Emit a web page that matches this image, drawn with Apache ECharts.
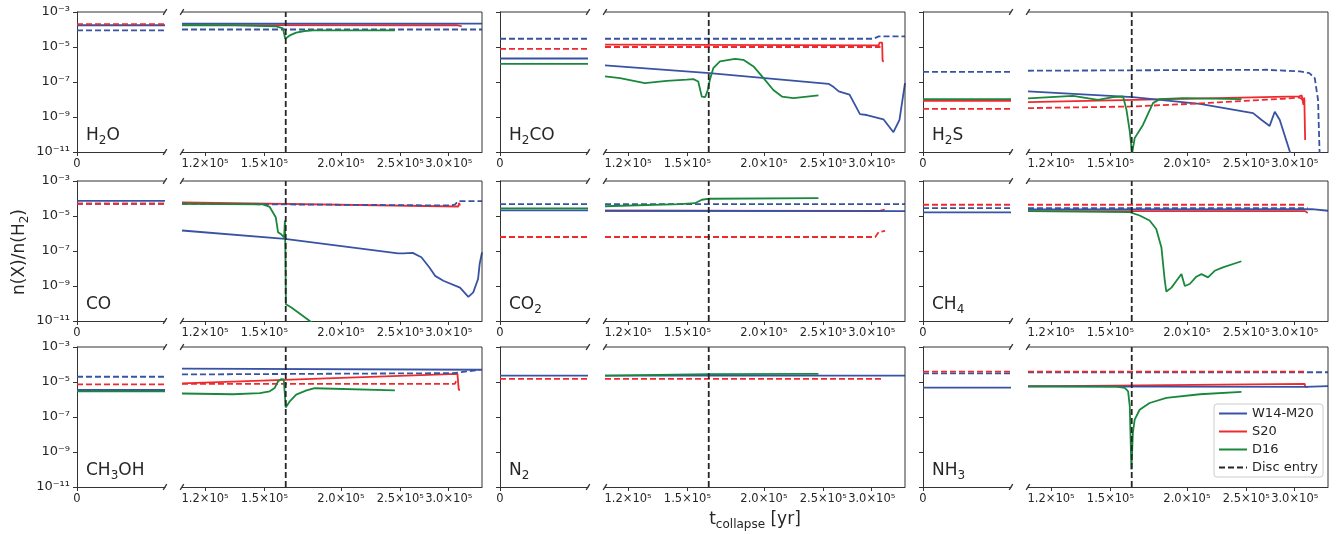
<!DOCTYPE html>
<html>
<head>
<meta charset="utf-8">
<title>Abundances during collapse</title>
<script src="https://cdn.jsdelivr.net/npm/echarts@6/dist/echarts.min.js"></script>
<style>
html,body{margin:0;padding:0;background:#fff;}
#main{width:1338px;height:534px;}
</style>
</head>
<body>
<div id="main"></div>
<script>
// species, row by row
var species = ['H2O', 'H2CO', 'H2S', 'CO', 'CO2', 'CH4', 'CH3OH', 'N2', 'NH3'];
var speciesText = ['{n|H}{s|2}{n|O}', '{n|H}{s|2}{n|CO}', '{n|H}{s|2}{n|S}', '{n|CO}', '{n|CO}{s|2}',
	'{n|CH}{s|4}', '{n|CH}{s|3}{n|OH}', '{n|N}{s|2}', '{n|NH}{s|3}'];

var xTicks = [1.2e5, 1.5e5, 2.0e5, 2.5e5, 3.0e5];
var xTickLabels = ['1.2×10⁵', '1.5×10⁵', '2.0×10⁵', '2.5×10⁵', '3.0×10⁵'];
var yTicks = [1e-11, 1e-9, 1e-7, 1e-5, 1e-3];
var yTickLabels = ['10⁻¹¹', '10⁻⁹', '10⁻⁷', '10⁻⁵', '10⁻³'];
var tDisc = 1.625e5;

// t = 0 panel, one value per species (null = not drawn)
var initW14Gas = [1.75e-4, 2.2e-6, 9.6e-9, 7.4e-5, 2.1e-5, 1.6e-5, 3.5e-6, 2.3e-5, 4.8e-6];
var initW14Ice = [8.9e-5, 2.97e-5, 3.8e-7, 5.0e-5, 4.8e-5, 2.8e-5, 2.0e-5, null, 3.1e-5];
var initS20Gas = [null, null, 8.3e-9, null, null, null, null, null, null];
var initS20Ice = [2.05e-4, 7.9e-6, 2.95e-9, 5.0e-5, 6.3e-7, 4.4e-5, 7.4e-6, 1.5e-5, 3.9e-5];
var initD16Gas = [null, 1.1e-6, 1.05e-8, null, 2.7e-5, null, 2.9e-6, null, null];

// collapse panel, [t (yr), n(X)/n(H2)]
var H2O_W14_gas = [[1.1e5, 2.15e-4], [3.4e5, 2.15e-4]];
var H2O_W14_ice = [[1.1e5, 1.0e-4], [3.4e5, 1.0e-4]];
var H2O_S20_gas = [[1.1e5, 1.8e-4], [3.1e5, 1.75e-4], [3.12e5, 1.5e-4], [3.15e5, 1.5e-4]];
var H2O_S20_ice = null;
var H2O_D16_gas = [[1.1e5, 1.75e-4], [1.35e5, 1.7e-4], [1.568e5, 1.5e-4], [1.608e5, 1.16e-4], [1.622e5, 2.97e-5],
	[1.65e5, 4.6e-5], [1.69e5, 6.6e-5], [1.745e5, 8.2e-5], [1.8e5, 8.9e-5], [2.45e5, 8.9e-5]];

var H2CO_W14_gas = [[1.1e5, 8.9e-7], [1.63e5, 3.2e-7], [2.55e5, 7.9e-8], [2.6e5, 5.1e-8], [2.65e5, 2.9e-8],
	[2.76e5, 1.9e-8], [2.87e5, 1.45e-9], [2.945e5, 1.3e-9], [3.135e5, 7.4e-10], [3.255e5, 1.35e-10],
	[3.33e5, 6.9e-10], [3.4e5, 8.7e-8]];
var H2CO_W14_ice = [[1.1e5, 2.97e-5], [3.02e5, 2.97e-5], [3.08e5, 4.05e-5], [3.4e5, 4.05e-5]];
var H2CO_S20_gas = [[1.1e5, 1.35e-5], [3.08e5, 1.23e-5], [3.09e5, 1.8e-5], [3.12e5, 1.8e-5], [3.125e5, 1.6e-6], [3.14e5, 1.5e-6]];
var H2CO_S20_ice = [[1.1e5, 1.0e-5], [3.1e5, 1.0e-5]];
var H2CO_D16_gas = [[1.1e5, 2.1e-7], [1.164e5, 1.66e-7], [1.278e5, 8.7e-8], [1.387e5, 1.17e-7], [1.496e5, 1.35e-7],
	[1.534e5, 1.45e-7], [1.562e5, 1.07e-7], [1.583e5, 1.48e-8], [1.603e5, 1.35e-8], [1.619e5, 3.5e-8],
	[1.632e5, 1.35e-7], [1.653e5, 6.2e-7], [1.695e5, 1.5e-6], [1.794e5, 2.1e-6], [1.851e5, 1.86e-6],
	[1.923e5, 7.8e-7], [1.997e5, 1.66e-7], [2.072e5, 3.5e-8], [2.14e5, 1.48e-8], [2.234e5, 1.2e-8], [2.455e5, 1.7e-8]];

var H2S_W14_gas = [[1.1e5, 2.9e-8], [1.632e5, 1.35e-8], [2.1e5, 5.6e-9], [2.565e5, 1.66e-9], [2.646e5, 6.9e-10],
	[2.73e5, 3.1e-10], [2.783e5, 2.0e-9], [2.835e5, 6.9e-10], [2.963e5, 5.5e-12]];
var H2S_W14_ice = [[1.1e5, 4.4e-7], [2.7e5, 5.0e-7], [3.06e5, 4.0e-7], [3.17e5, 3.2e-7], [3.235e5, 1.66e-7],
	[3.275e5, 9.6e-9], [3.3e5, 1e-12]];
var H2S_S20_gas = [[1.1e5, 7.1e-9], [3.05e5, 1.5e-8], [3.08e5, 1.7e-8], [3.1e5, 5e-9], [3.11e5, 1.3e-8], [3.12e5, 4.9e-11]];
var H2S_S20_ice = [[1.1e5, 3.2e-9], [1.63e5, 4.0e-9], [2.1e5, 6.0e-9], [2.87e5, 1.1e-8], [3.05e5, 1.3e-8], [3.13e5, 8.0e-9]];
var H2S_D16_gas = [[1.1e5, 1.15e-8], [1.303e5, 1.62e-8], [1.431e5, 9.6e-9], [1.515e5, 1.35e-8], [1.573e5, 1.48e-8],
	[1.593e5, 2.6e-9], [1.613e5, 1.5e-10], [1.627e5, 8e-12], [1.643e5, 6.2e-11], [1.695e5, 3.5e-10],
	[1.76e5, 6.2e-9], [1.805e5, 1.05e-8], [1.971e5, 1.2e-8], [2.455e5, 1.05e-8]];

var CO_W14_gas = [[1.1e5, 1.48e-6], [1.62e5, 4.9e-7], [2.48e5, 7.4e-8], [2.527e5, 7.4e-8], [2.62e5, 7.8e-8],
	[2.707e5, 4.4e-8], [2.79e5, 1.15e-8], [2.85e5, 3.8e-9], [2.94e5, 2.0e-9], [3.13e5, 8.1e-10],
	[3.23e5, 2.4e-10], [3.245e5, 2.0e-10], [3.29e5, 4.3e-10], [3.35e5, 2.5e-9], [3.37e5, 1.8e-8], [3.4e5, 8.3e-8]];
var CO_W14_ice = [[1.1e5, 5.0e-5], [3.01e5, 4.0e-5], [3.07e5, 4.5e-5], [3.11e5, 7.1e-5], [3.4e5, 7.1e-5]];
var CO_S20_gas = [[1.1e5, 6.0e-5], [3.11e5, 3.5e-5], [3.12e5, 5.5e-5], [3.13e5, 4.0e-5]];
var CO_S20_ice = null;
var CO_D16_gas = [[1.1e5, 5.0e-5], [1.492e5, 4.6e-5], [1.53e5, 3.3e-5], [1.565e5, 8.5e-6], [1.579e5, 1.17e-6],
	[1.599e5, 8.7e-7], [1.615e5, 6.0e-7], [1.62e5, 5.5e-6], [1.623e5, 6.8e-8], [1.626e5, 9.1e-11],
	[1.66e5, 5.9e-11], [1.779e5, 1e-11], [1.812e5, 6e-12]];

var CO2_W14_gas = [[1.1e5, 2.0e-5], [3.4e5, 1.9e-5]];
var CO2_W14_ice = [[1.1e5, 4.8e-5], [3.4e5, 4.8e-5]];
var CO2_S20_gas = [[1.1e5, 2.0e-5], [3.09e5, 1.95e-5], [3.1e5, 2.3e-5], [3.15e5, 2.3e-5]];
var CO2_S20_ice = [[1.1e5, 6.3e-7], [3.04e5, 6.3e-7], [3.08e5, 1.2e-6], [3.095e5, 1.4e-6], [3.155e5, 1.4e-6]];
var CO2_D16_gas = [[1.1e5, 3.6e-5], [1.458e5, 4.8e-5], [1.543e5, 5.4e-5], [1.583e5, 8.5e-5], [1.632e5, 9.7e-5], [2.455e5, 1.05e-4]];

var CH4_W14_gas = [[1.1e5, 2.4e-5], [3.2e5, 2.5e-5], [3.4e5, 2.0e-5]];
var CH4_W14_ice = [[1.1e5, 2.8e-5], [3.15e5, 2.8e-5]];
var CH4_S20_gas = [[1.1e5, 1.9e-5], [3.12e5, 1.9e-5], [3.13e5, 1.5e-5], [3.15e5, 1.5e-5]];
var CH4_S20_ice = [[1.1e5, 4.4e-5], [3.12e5, 4.4e-5]];
var CH4_D16_gas = [[1.1e5, 1.9e-5], [1.613e5, 1.66e-5], [1.674e5, 1.07e-5], [1.738e5, 5.5e-6], [1.782e5, 1.8e-6],
	[1.817e5, 1.6e-7], [1.84e5, 2.0e-9], [1.851e5, 4.8e-10], [1.887e5, 8.1e-10], [1.923e5, 2.0e-9],
	[1.959e5, 4.8e-9], [1.984e5, 1.0e-9], [2.021e5, 1.3e-9], [2.072e5, 3.4e-9], [2.112e5, 4.8e-9],
	[2.165e5, 3.1e-9], [2.22e5, 7.4e-9], [2.29e5, 1.15e-8], [2.455e5, 2.6e-8]];

var CH3OH_W14_gas = [[1.1e5, 5.8e-5], [3.4e5, 5.0e-5]];
var CH3OH_W14_ice = [[1.1e5, 2.7e-5], [3.05e5, 3.2e-5], [3.37e5, 5.0e-5]];
var CH3OH_S20_gas = [[1.1e5, 8.3e-6], [3.1e5, 2.9e-5], [3.11e5, 2.9e-5], [3.115e5, 3.6e-6], [3.13e5, 3.6e-6]];
var CH3OH_S20_ice = [[1.1e5, 7.8e-6], [3.07e5, 7.8e-6], [3.09e5, 1.3e-5], [3.11e5, 1.3e-5]];
var CH3OH_D16_gas = [[1.1e5, 2.2e-6], [1.333e5, 2.0e-6], [1.474e5, 2.3e-6], [1.53e5, 2.95e-6], [1.559e5, 4.6e-6],
	[1.579e5, 1.1e-5], [1.599e5, 1.48e-5], [1.613e5, 1.4e-5], [1.619e5, 2.4e-6], [1.625e5, 3.5e-7],
	[1.65e5, 7.9e-7], [1.69e5, 1.9e-6], [1.757e5, 3.3e-6], [1.812e5, 4.4e-6], [2.45e5, 3.3e-6]];

var N2_W14_gas = [[1.1e5, 2.3e-5], [3.4e5, 2.3e-5]];
var N2_W14_ice = null;
var N2_S20_gas = null;
var N2_S20_ice = [[1.1e5, 1.5e-5], [3.13e5, 1.5e-5]];
var N2_D16_gas = [[1.1e5, 2.3e-5], [1.632e5, 2.8e-5], [2.455e5, 2.9e-5]];

var NH3_W14_gas = [[1.1e5, 5.6e-6], [3.115e5, 5.3e-6], [3.4e5, 5.8e-6]];
var NH3_W14_ice = [[1.1e5, 3.6e-5], [3.4e5, 3.6e-5]];
var NH3_S20_gas = [[1.1e5, 5.6e-6], [3.115e5, 7.8e-6], [3.12e5, 5.2e-6], [3.155e5, 5.2e-6]];
var NH3_S20_ice = [[1.1e5, 3.9e-5], [3.13e5, 3.9e-5]];
var NH3_D16_gas = [[1.1e5, 5.6e-6], [1.534e5, 5.4e-6], [1.583e5, 4.6e-6], [1.603e5, 2.95e-6], [1.613e5, 4.1e-7],
	[1.623e5, 1.0e-10], [1.627e5, 1.2e-10], [1.632e5, 1.23e-8], [1.643e5, 7.1e-8], [1.674e5, 2.6e-7],
	[1.738e5, 6.3e-7], [1.851e5, 1.23e-6], [2.1e5, 2.0e-6], [2.455e5, 2.7e-6]];

var wideW14Gas = [H2O_W14_gas, H2CO_W14_gas, H2S_W14_gas, CO_W14_gas, CO2_W14_gas, CH4_W14_gas, CH3OH_W14_gas, N2_W14_gas, NH3_W14_gas];
var wideW14Ice = [H2O_W14_ice, H2CO_W14_ice, H2S_W14_ice, CO_W14_ice, CO2_W14_ice, CH4_W14_ice, CH3OH_W14_ice, N2_W14_ice, NH3_W14_ice];
var wideS20Gas = [H2O_S20_gas, H2CO_S20_gas, H2S_S20_gas, CO_S20_gas, CO2_S20_gas, CH4_S20_gas, CH3OH_S20_gas, N2_S20_gas, NH3_S20_gas];
var wideS20Ice = [H2O_S20_ice, H2CO_S20_ice, H2S_S20_ice, CO_S20_ice, CO2_S20_ice, CH4_S20_ice, CH3OH_S20_ice, N2_S20_ice, NH3_S20_ice];
var wideD16Gas = [H2O_D16_gas, H2CO_D16_gas, H2S_D16_gas, CO_D16_gas, CO2_D16_gas, CH4_D16_gas, CH3OH_D16_gas, N2_D16_gas, NH3_D16_gas];

// layout
var narrowLeft = [77, 500, 923], wideLeft = [182, 605, 1028];
var narrowW = 88, wideW = 300;
var rowTop = [12, 181, 347], rowH = 140;
var blue = '#3853a4', red = '#ee2a2f', green = '#19883c', black = '#262626';
var spine = '#333', font = 'DejaVu Sans', txt = '#262626';

var chart = echarts.init(document.getElementById('main'));

function nearestLabel(v, ticks, labels) {
	var best = 0;
	for (var i = 1; i < ticks.length; i++) {
		if (Math.abs(Math.log(v / ticks[i])) < Math.abs(Math.log(v / ticks[best]))) best = i;
	}
	return labels[best];
}

function lineSeries(name, idx, data, color, dashed) {
	return {
		type: 'line', name: name, xAxisIndex: idx, yAxisIndex: idx, data: data,
		symbol: 'none', showSymbol: false, silent: true, animation: false,
		lineStyle: {color: color, width: 1.8, type: dashed ? [6, 3] : 'solid'},
		itemStyle: {color: color}
	};
}

var grids = [], xAxes = [], yAxes = [], series = [], graphics = [];

function seg(x1, y1, x2, y2, w) {
	graphics.push({type: 'line', silent: true, z: 50, shape: {x1: x1, y1: y1, x2: x2, y2: y2},
		style: {stroke: spine, lineWidth: w || 1}});
}

var subRich = {
	n: {fontSize: 17, fontFamily: font, fill: txt, lineHeight: 20, padding: [0, 0, 2, 0]},
	s: {fontSize: 12, fontFamily: font, fill: txt, lineHeight: 12, verticalAlign: 'bottom'}
};

for (var s = 0; s < species.length; s++) {
	var row = Math.floor(s / 3), col = s % 3;
	var pTop = rowTop[row], pBottom = rowTop[row] + rowH;
	var nl = narrowLeft[col], wl = wideLeft[col];
	var ni = 2 * s, wi = 2 * s + 1;

	grids.push({left: nl, top: pTop, width: narrowW, height: rowH});
	grids.push({left: wl, top: pTop, width: wideW, height: rowH});

	xAxes.push({
		gridIndex: ni, type: 'value', min: 0, max: 1,
		axisLine: {show: true, lineStyle: {color: spine, width: 1}},
		axisTick: {show: true, length: 4, customValues: [0], lineStyle: {color: spine}},
		axisLabel: {show: true, customValues: [0], margin: 6, fontSize: 11.5, fontFamily: font, color: txt,
			formatter: function () { return '0'; }},
		splitLine: {show: false}
	});
	xAxes.push({
		gridIndex: wi, type: 'log', logBase: 10, min: 1.1e5, max: 3.4e5,
		axisLine: {show: true, lineStyle: {color: spine, width: 1}},
		axisTick: {show: true, length: 4, customValues: xTicks, lineStyle: {color: spine}},
		axisLabel: {show: true, customValues: xTicks, margin: 6, fontSize: 11.5, fontFamily: font, color: txt,
			hideOverlap: false,
			formatter: function (v) { return nearestLabel(v, xTicks, xTickLabels); }},
		splitLine: {show: false}, minorTick: {show: false}
	});
	yAxes.push({
		gridIndex: ni, type: 'log', logBase: 10, min: 1e-11, max: 1e-3,
		axisLine: {show: true, lineStyle: {color: spine, width: 1}},
		axisTick: {show: true, length: 4, customValues: yTicks, lineStyle: {color: spine}},
		axisLabel: {show: col === 0, customValues: yTicks, margin: 7, fontSize: 13, fontFamily: font, color: txt,
			formatter: function (v) { return nearestLabel(v, yTicks, yTickLabels); }},
		splitLine: {show: false}
	});
	yAxes.push({
		gridIndex: wi, type: 'log', logBase: 10, min: 1e-11, max: 1e-3, show: false,
		splitLine: {show: false}
	});

	// t = 0 panel
	if (initW14Gas[s] !== null) series.push(lineSeries('W14-M20', ni, [[0, initW14Gas[s]], [1, initW14Gas[s]]], blue, false));
	if (initW14Ice[s] !== null) series.push(lineSeries('W14-M20 ice', ni, [[0, initW14Ice[s]], [1, initW14Ice[s]]], blue, true));
	if (initS20Gas[s] !== null) series.push(lineSeries('S20', ni, [[0, initS20Gas[s]], [1, initS20Gas[s]]], red, false));
	if (initS20Ice[s] !== null) series.push(lineSeries('S20 ice', ni, [[0, initS20Ice[s]], [1, initS20Ice[s]]], red, true));
	if (initD16Gas[s] !== null) series.push(lineSeries('D16', ni, [[0, initD16Gas[s]], [1, initD16Gas[s]]], green, false));

	// collapse panel (S20 gas under W14 gas)
	if (wideS20Gas[s]) series.push(lineSeries('S20', wi, wideS20Gas[s], red, false));
	if (wideW14Gas[s]) series.push(lineSeries('W14-M20', wi, wideW14Gas[s], blue, false));
	if (wideW14Ice[s]) series.push(lineSeries('W14-M20 ice', wi, wideW14Ice[s], blue, true));
	if (wideS20Ice[s]) series.push(lineSeries('S20 ice', wi, wideS20Ice[s], red, true));
	if (wideD16Gas[s]) series.push(lineSeries('D16', wi, wideD16Gas[s], green, false));
	series.push(lineSeries('Disc entry', wi, [[tDisc, 1e-11], [tDisc, 1e-3]], black, true));

	// remaining spines and the axis break marks
	seg(nl, pTop, nl + narrowW, pTop);
	seg(wl, pTop, wl + wideW, pTop);
	seg(wl + wideW, pTop, wl + wideW, pBottom);
	[[nl + narrowW, pTop], [nl + narrowW, pBottom], [wl, pTop], [wl, pBottom]].forEach(function (p) {
		seg(p[0] - 1.8, p[1] + 2.8, p[0] + 1.8, p[1] - 2.8, 1.3);
	});

	graphics.push({
		type: 'text', silent: true, z: 60, x: nl + 9, y: pBottom - 5,
		style: {text: speciesText[s], fill: txt, align: 'left', verticalAlign: 'bottom', rich: subRich}
	});
}

graphics.push({
	type: 'text', silent: true, x: 21, y: 252, rotation: Math.PI / 2,
	style: {text: '{n|n(X)/n(H}{s|2}{n|)}', fill: txt, align: 'center', verticalAlign: 'middle', rich: subRich}
});
graphics.push({
	type: 'text', silent: true, x: 755, y: 521,
	style: {text: '{n|t}{s|collapse}{n| [yr]}', fill: txt, align: 'center', verticalAlign: 'middle', rich: subRich}
});

var option = {
	animation: false,
	backgroundColor: '#fff',
	legend: {
		data: ['W14-M20', 'S20', 'D16', 'Disc entry'],
		orient: 'vertical', left: 1214, top: 404,
		itemWidth: 28, itemHeight: 14, itemGap: 5,
		padding: [3, 5, 3, 4],
		backgroundColor: '#fff', borderColor: '#ccc', borderWidth: 1, borderRadius: 3,
		itemStyle: {opacity: 0},
		textStyle: {fontSize: 13, fontFamily: font, color: txt},
		selectedMode: false, z: 100
	},
	grid: grids,
	xAxis: xAxes,
	yAxis: yAxes,
	series: series,
	graphic: graphics
};
chart.setOption(option);
window.onresize = function () {
	chart.resize();
};
</script>
</body>
</html>
